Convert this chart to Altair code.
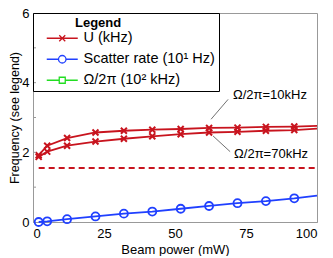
import altair as alt
import pandas as pd

# ---------------- data ----------------
power = [2, 5, 12, 22, 32, 42, 52, 62, 72, 82, 92]          # marker positions (mW)
line_power = power + [100]                                   # lines continue to the axis edge
u_10khz = [1.92, 2.19, 2.41, 2.57, 2.62, 2.65, 2.67, 2.70, 2.71, 2.73, 2.74, 2.76]
u_70khz = [1.87, 2.02, 2.19, 2.31, 2.39, 2.46, 2.52, 2.57, 2.59, 2.62, 2.64, 2.68]
scatter = [0.00, 0.02, 0.08, 0.16, 0.24, 0.30, 0.38, 0.46, 0.54, 0.60, 0.68, 0.76]
threshold_y = [1.55]
threshold_x = [2]
threshold_x2 = [100]

series = ["U (kHz)", "Scatter rate (10¹ Hz)", "Ω/2π (10² kHz)"]
colors = ["#C8141E", "#2040FF", "#22DD22"]

ann_text = ["Ω/2π=10kHz", "Ω/2π=70kHz"]
ann_x = [70.4, 70.8]
ann_y = [3.64, 1.96]
lead_x = [68.7, 63.4]
lead_y = [3.52, 2.47]
lead_x2 = [62.7, 69.4]
lead_y2 = [2.95, 2.02]

x_ticks = [0, 25, 50, 75, 100]
y_ticks = [0, 2, 4, 6]
y_inner_ticks = [1, 2, 3, 4, 5]
legend_title = ["Legend"]

FONT = "Liberation Sans"

# ---------------- tables ----------------
rows = []
for curve, name, vals in [("U10", series[0], u_10khz), ("U70", series[0], u_70khz),
                          ("SR", series[1], scatter)]:
    for p, v in zip(line_power, vals):
        rows.append({"curve": curve, "series": name, "power": p, "value": v,
                     "marker": p in power})
df = pd.DataFrame(rows)

thr = pd.DataFrame({"x": threshold_x, "x2": threshold_x2, "y": threshold_y})
ann = pd.DataFrame({"text": ann_text, "x": ann_x, "y": ann_y})
lead = pd.DataFrame({"x": lead_x, "y": lead_y, "x2": lead_x2, "y2": lead_y2})
legend_df = pd.DataFrame({"series": series, "power": [0, 0, 0], "value": [0, 0, 0]})
yt = pd.DataFrame({"y": y_inner_ticks})
lt = pd.DataFrame({"t": legend_title})

xscale = alt.Scale(domain=[0, 100], nice=False, zero=False)
yscale = alt.Scale(domain=[0, 6], nice=False)
cscale = alt.Scale(domain=series, range=colors)

xenc = alt.X("power:Q", scale=xscale,
             axis=alt.Axis(values=x_ticks, title="Beam power (mW)", ticks=False,
                           labelPadding=5, titlePadding=3, grid=False))
yenc = alt.Y("value:Q", scale=yscale,
             axis=alt.Axis(values=y_ticks, title="Frequency (see legend)", ticks=False,
                           labelPadding=4, titleX=-12, titleFontSize=12.5, grid=False))

leg_paths = [
    "M-3.1,0H3.1M-0.6,-0.6L0.6,0.6M-0.6,0.6L0.6,-0.6",
    "M-3.1,0H-0.75A0.75,0.75 0 1,1 0.75,0A0.75,0.75 0 1,1 -0.75,0ZM0.75,0H3.1",
    "M-3.1,0H-0.6M-0.6,-0.6H0.6V0.6H-0.6ZM0.6,0H3.1",
]
leg_props = dict(
    orient="none", legendX=0, legendY=0,
    title="Legend", titleFont=FONT, titleFontSize=13, titleOpacity=0,
    titleFontWeight="bold", titleColor="black", titleAlign="left", titleAnchor="start",
    titlePadding=1,
    labelFont=FONT, labelFontSize=14.5, labelColor="black", labelLimit=300,
    strokeColor="black", padding=4,
    symbolSize=100, symbolStrokeWidth=1.3, symbolOffset=18, labelOffset=14,
    rowPadding=6,
)
color_enc = alt.Color("series:N", scale=cscale, legend=alt.Legend(**leg_props))

base = alt.Chart(df)

lines = base.mark_line(strokeWidth=1.8).encode(
    x=xenc, y=yenc, color=color_enc, detail="curve:N",
)

cross_path = "M-1,-1L1,1M-1,1L1,-1"
u_pts = base.transform_filter(
    (alt.datum.marker == True) & (alt.datum.curve != "SR")
).mark_point(shape=cross_path, size=36, filled=False, strokeWidth=2, opacity=1).encode(
    x="power:Q", y="value:Q", color=color_enc,
)
sr_pts = base.transform_filter(
    (alt.datum.marker == True) & (alt.datum.curve == "SR")
).mark_point(shape="circle", size=64, filled=False, strokeWidth=1.8, opacity=1).encode(
    x="power:Q", y="value:Q", color=color_enc,
)

dash = alt.Chart(thr).mark_rule(color=colors[0], strokeWidth=1.8, strokeDash=[6, 4]).encode(
    x=alt.X("x:Q", scale=xscale), x2="x2:Q", y=alt.Y("y:Q", scale=yscale)
)

leaders = alt.Chart(lead).mark_rule(color="#333333", strokeWidth=0.7).encode(
    x="x:Q", y="y:Q", x2="x2:Q", y2="y2:Q"
)
labels = alt.Chart(ann).mark_text(align="left", baseline="middle", font=FONT,
                                  fontSize=13, color="black").encode(
    x="x:Q", y="y:Q", text="text:N"
)

inner_ticks = alt.Chart(yt).mark_rule(color="#999999", strokeWidth=1).encode(
    y=alt.Y("y:Q", scale=yscale), x=alt.value(0), x2=alt.value(3)
)

# visible legend title (offset like the reference)
leg_title = alt.Chart(lt).mark_text(align="left", baseline="middle", font=FONT,
                                    fontSize=13, fontWeight="bold", color="black").encode(
    text="t:N", x=alt.value(42), y=alt.value(10)
)

# legend-only layer: no marks drawn (data filtered out), carries the shape legend
legend_layer = alt.Chart(legend_df).transform_filter("false").mark_point(
    filled=False, strokeWidth=1.3
).encode(
    x="power:Q", y="value:Q",
    color=color_enc,
    shape=alt.Shape("series:N", scale=alt.Scale(domain=series, range=leg_paths),
                    legend=alt.Legend(**leg_props)),
)

chart = alt.layer(
    dash, lines, u_pts, sr_pts, leaders, labels, inner_ticks, leg_title, legend_layer
).properties(
    width=284, height=209,
    background="white",
    autosize=alt.AutoSizeParams(type="none"),
    padding={"left": 25, "top": 5, "right": 8, "bottom": 34},
).configure_view(
    stroke="#999999", strokeWidth=1
).configure_axis(
    domainColor="#999999", labelFont=FONT, titleFont=FONT, labelFontSize=13,
    titleFontSize=13, labelColor="black", titleColor="black", titleFontWeight="normal",
)

chart.save("out.html", embed_options={"renderer": "svg", "actions": False})
